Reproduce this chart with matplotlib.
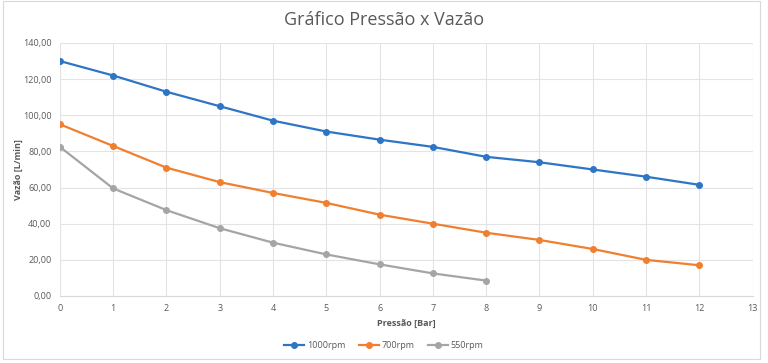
import matplotlib
matplotlib.use("Agg")
import matplotlib.pyplot as plt
from matplotlib.ticker import FuncFormatter, MultipleLocator
from matplotlib.patches import Rectangle

pressure_1000 = [0, 1, 2, 3, 4, 5, 6, 7, 8, 9, 10, 11, 12]
flow_1000 = [130, 122, 113, 105, 97, 91, 86.5, 82.5, 77, 74, 70, 66, 61.5]
pressure_700 = [0, 1, 2, 3, 4, 5, 6, 7, 8, 9, 10, 11, 12]
flow_700 = [95, 83, 71, 63, 57, 51.5, 45, 40, 35, 31, 26, 20, 17]
pressure_550 = [0, 1, 2, 3, 4, 5, 6, 7, 8]
flow_550 = [82.5, 59.5, 47.5, 37.5, 29.5, 23, 17.5, 12.5, 8.5]
series_labels = ["1000rpm", "700rpm", "550rpm"]
colors = ["#2e75c6", "#f07f2f", "#a5a5a5"]

plt.rcParams['font.family'] = ['Open Sans', 'DejaVu Sans']
txt = "#595959"

fig = plt.figure(figsize=(7.68, 3.63), dpi=100)
fig.patches.append(Rectangle((0.004, 0.012), 0.986, 0.984, transform=fig.transFigure,
                             fill=False, edgecolor="#d9d9d9", linewidth=0.8))
ax = fig.add_axes([0.078, 0.1846, 0.902, 0.697])

for xs, ys, lab, c in zip([pressure_1000, pressure_700, pressure_550],
                          [flow_1000, flow_700, flow_550], series_labels, colors):
    ax.plot(xs, ys, color=c, linewidth=1.6, marker='o', markersize=4, label=lab)

ax.set_xlim(0, 13)
ax.set_ylim(0, 140)
ax.xaxis.set_major_locator(MultipleLocator(1))
ax.yaxis.set_major_locator(MultipleLocator(20))
ax.yaxis.set_major_formatter(FuncFormatter(lambda v, p: f"{v:.2f}".replace('.', ',')))
ax.grid(True, color="#e3e3e3", linewidth=0.8)
ax.set_axisbelow(True)
for s in ["top", "right", "left"]:
    ax.spines[s].set_visible(False)
ax.spines["bottom"].set_color("#d9d9d9")
ax.tick_params(length=0, labelsize=6.5, labelcolor=txt, pad=6)
ax.set_xlabel("Pressão [Bar]", fontsize=6.5, fontweight='bold', color=txt, labelpad=4)
ax.set_ylabel("Vazão [L/min]", fontsize=6.5, fontweight='bold', color=txt, labelpad=0)
fig.text(0.5, 0.945, "Gráfico Pressão x Vazão", ha='center', va='center', fontsize=13, color=txt)
fig.legend(loc='center', bbox_to_anchor=(0.5, 0.047), ncol=3, frameon=False,
           fontsize=6.5, labelcolor=txt, handlelength=2.2, columnspacing=1.5, handletextpad=0.3)

fig.savefig("out.png", dpi=100)
